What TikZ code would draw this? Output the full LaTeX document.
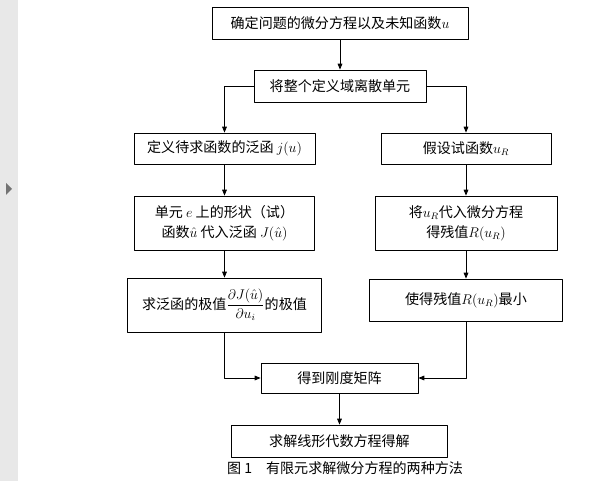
\documentclass[tikz,border=0pt]{standalone}
\usepackage{amsmath}
\usepackage{fontspec}
\newfontfamily\cjk{Noto Sans CJK SC}
\usetikzlibrary{arrows.meta}
\begin{document}
\begin{tikzpicture}[x=0.03cm, y=-0.03cm, font=\cjk\fontsize{12}{17}\selectfont, line join=round, >={Triangle[length=5pt,width=4pt]}, line width=0.7pt,
  box/.style={draw, inner sep=0pt, align=center},
  flow/.style={->}]
 \useasboundingbox (0,0) rectangle (605,481);
 \fill[color=black!9] (0,0) rectangle (18,481);
 \fill[color=black!55] (6,183)--(12,189)--(6,195)--cycle;
 \node[box, minimum width=7.68cm, minimum height=0.96cm] (b1) at (340,23) {确定问题的微分方程以及未知函数$u$};
 \node[box, minimum width=5.16cm, minimum height=0.96cm] (b2) at (340,86) {将整个定义域离散单元};
 \node[box, minimum width=5.43cm, minimum height=0.93cm] (b3l) at (224.5,148.5) {定义待求函数的泛函 $j(u)$};
 \node[box, minimum width=5.1cm, minimum height=0.93cm] (b3r) at (466,148.5) {假设试函数$u_R$};
 \node[box, minimum width=5.4cm, minimum height=1.62cm] (b4l) at (224.5,223) {单元 $e$ 上的形状（试）\\函数$\hat{u}$ 代入泛函 $J(\hat{u})$};
 \node[box, minimum width=5.46cm, minimum height=1.62cm] (b4r) at (466,223) {将$u_R$代入微分方程\\得残值$R(u_R)$};
 \node[box, minimum width=5.82cm, minimum height=1.62cm] (b5l) at (224.5,305) {求泛函的极值$\dfrac{\partial J(\hat{u})}{\partial u_i}$的极值};
 \node[box, minimum width=5.79cm, minimum height=1.26cm] (b5r) at (466,300) {使得残值$R(u_R)$最小};
 \node[box, minimum width=4.71cm, minimum height=0.9cm] (b6) at (339.5,378) {得到刚度矩阵};
 \node[box, minimum width=6.48cm, minimum height=0.96cm] (b7) at (339.5,441) {求解线形代数方程得解};
 \node (cap) at (345,468) {图 1\quad 有限元求解微分方程的两种方法};
 \draw[flow] (b1)--(b2);
 \draw[flow] (b2.west)-|(b3l.north);
 \draw[flow] (b2.east)-|(b3r.north);
 \draw[flow] (b3l)--(b4l);
 \draw[flow] (b4l)--(b5l);
 \draw[flow] (b3r)--(b4r);
 \draw[flow] (b4r)--(b5r);
 \draw[flow] (b5l.south)|-(b6.west);
 \draw[flow] (b5r.south)|-(b6.east);
 \draw[flow] (b6)--(b7);
\end{tikzpicture}
\end{document}
